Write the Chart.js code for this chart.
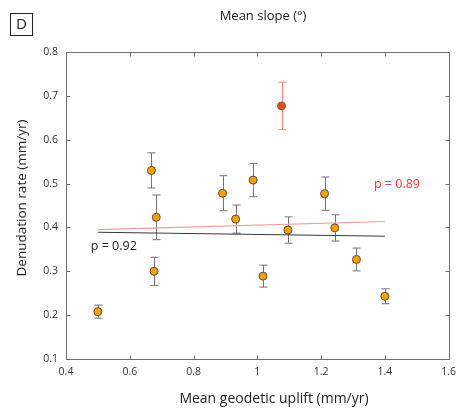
<!DOCTYPE html>
<html><head><meta charset="utf-8">
<script src="https://cdn.jsdelivr.net/npm/chart.js@4.4.0/dist/chart.umd.min.js"></script>
<style>html,body{margin:0;padding:0;background:#fff}</style>
</head><body>
<canvas id="c" width="463" height="411"></canvas>
<script>
// ---- data ----
const uplift     = [0.500, 0.668, 0.683, 0.676, 0.891, 0.932, 0.987, 1.018, 1.096, 1.211, 1.243, 1.311, 1.400];
const denudation = [0.208, 0.530, 0.423, 0.300, 0.478, 0.419, 0.508, 0.289, 0.394, 0.477, 0.399, 0.327, 0.243];
const denudErr   = [0.015, 0.040, 0.051, 0.032, 0.040, 0.032, 0.038, 0.025, 0.030, 0.038, 0.030, 0.026, 0.017];
const outlierX   = [1.076];
const outlierY   = [0.677];
const outlierErr = [0.054];
const fitX       = [0.5, 1.4];
const fitAllY    = [0.395, 0.4135];   // red line, p = 0.89
const fitNoOutY  = [0.389, 0.380];    // black line, p = 0.92
const xTicks = [0.4, 0.6, 0.8, 1.0, 1.2, 1.4, 1.6];
const xTickLabels = ['0.4', '0.6', '0.8', '1', '1.2', '1.4', '1.6'];
const yTicks = [0.1, 0.2, 0.3, 0.4, 0.5, 0.6, 0.7, 0.8];
const yTickLabels = ['0.1', '0.2', '0.3', '0.4', '0.5', '0.6', '0.7', '0.8'];
const pAllLabel = 'p = 0.89', pAllPos = [1.438, 0.498];
const pNoOutLabel = 'p = 0.92', pNoOutPos = [0.55, 0.357];

const FONT = "'Open Sans', 'DejaVu Sans', sans-serif";
const pts = (xs, ys) => xs.map((x, i) => ({x, y: ys[i]}));

const decor = {
  id: 'decor',
  beforeDatasetsDraw(chart) {
    const {ctx} = chart, xs = chart.scales.x, ys = chart.scales.y;
    const drawErr = (X, Y, E, color) => {
      ctx.save(); ctx.strokeStyle = color; ctx.lineWidth = 1;
      X.forEach((x, i) => {
        const px = Math.round(xs.getPixelForValue(x)) + 0.5;
        const t = ys.getPixelForValue(Y[i] + E[i]), b = ys.getPixelForValue(Y[i] - E[i]);
        ctx.beginPath();
        ctx.moveTo(px, t); ctx.lineTo(px, b);
        ctx.moveTo(px - 4, t); ctx.lineTo(px + 4, t);
        ctx.moveTo(px - 4, b); ctx.lineTo(px + 4, b);
        ctx.stroke();
      });
      ctx.restore();
    };
    drawErr(uplift, denudation, denudErr, '#7a7070');
    drawErr(outlierX, outlierY, outlierErr, '#f4877f');
  },
  afterDraw(chart) {
    const {ctx, chartArea: a} = chart, xs = chart.scales.x, ys = chart.scales.y;
    ctx.save();
    // frame
    ctx.strokeStyle = '#6f6f6f'; ctx.lineWidth = 1;
    const L = Math.round(a.left) + 0.5, R = Math.round(a.right) + 0.5,
          T = Math.round(a.top) + 0.5, B = Math.round(a.bottom) + 0.5;
    ctx.strokeRect(L, T, R - L, B - T);
    ctx.beginPath();
    xTicks.forEach(v => {
      const p = Math.round(xs.getPixelForValue(v)) + 0.5;
      ctx.moveTo(p, B); ctx.lineTo(p, B - 4);
      ctx.moveTo(p, T); ctx.lineTo(p, T + 4);
    });
    yTicks.forEach(v => {
      const p = Math.round(ys.getPixelForValue(v)) + 0.5;
      ctx.moveTo(L, p); ctx.lineTo(L + 4, p);
      ctx.moveTo(R, p); ctx.lineTo(R - 4, p);
    });
    ctx.stroke();
    // titles
    ctx.fillStyle = '#222';
    ctx.textAlign = 'center'; ctx.textBaseline = 'middle';
    ctx.font = '13px ' + FONT;
    ctx.fillText('Mean slope (°)', 263, 16);
    ctx.font = '14px ' + FONT;
    ctx.fillText('Mean geodetic uplift (mm/yr)', 274, 399);
    ctx.save();
    ctx.translate(22, 198); ctx.rotate(-Math.PI / 2);
    ctx.font = '13.5px ' + FONT;
    ctx.fillText('Denudation rate (mm/yr)', 0, 0);
    ctx.restore();
    // panel letter
    ctx.strokeStyle = '#222';
    ctx.strokeRect(10.5, 13.5, 22, 22);
    ctx.font = '15px ' + FONT;
    ctx.fillText('D', 21.5, 25);
    // p labels
    ctx.font = '12.5px ' + FONT;
    ctx.fillStyle = '#ee3b3b';
    ctx.fillText(pAllLabel, xs.getPixelForValue(pAllPos[0]), ys.getPixelForValue(pAllPos[1]));
    ctx.fillStyle = '#222';
    ctx.fillText(pNoOutLabel, xs.getPixelForValue(pNoOutPos[0]), ys.getPixelForValue(pNoOutPos[1]));
    ctx.restore();
  }
};

new Chart(document.getElementById('c'), {
  type: 'scatter',
  data: {
    datasets: [
      {data: pts(uplift, denudation), backgroundColor: '#f5a000', borderColor: '#5a5048',
       borderWidth: 1, pointRadius: 4, order: 1},
      {data: pts(outlierX, outlierY), backgroundColor: '#e8501a', borderColor: '#7a5a50',
       borderWidth: 1, pointRadius: 4, order: 1},
      {type: 'line', data: pts(fitX, fitAllY), borderColor: '#f39a9a', borderWidth: 1.2,
       pointRadius: 0, fill: false, order: 3},
      {type: 'line', data: pts(fitX, fitNoOutY), borderColor: '#3a3a3a', borderWidth: 1,
       pointRadius: 0, fill: false, order: 3}
    ]
  },
  options: {
    responsive: false, animation: false, devicePixelRatio: 1,
    layout: {padding: {left: 0, top: 52, right: 7, bottom: 0}},
    plugins: {legend: {display: false}, tooltip: {enabled: false}, title: {display: false}},
    scales: {
      x: {
        type: 'linear', min: 0.4, max: 1.6,
        afterFit: s => { s.height = 52; },
        afterBuildTicks: s => { s.ticks = xTicks.map(v => ({value: v})); },
        grid: {display: false, drawTicks: false}, border: {display: false},
        ticks: {padding: 7, color: '#333', font: {family: FONT, size: 10.5},
                callback: v => xTickLabels[xTicks.findIndex(t => Math.abs(t - v) < 1e-9)],
                maxRotation: 0, autoSkip: false}
      },
      y: {
        type: 'linear', min: 0.1, max: 0.8,
        afterFit: s => { s.width = 66; },
        afterBuildTicks: s => { s.ticks = yTicks.map(v => ({value: v})); },
        grid: {display: false, drawTicks: false}, border: {display: false},
        ticks: {padding: 8, color: '#333', font: {family: FONT, size: 10.5},
                callback: v => yTickLabels[yTicks.findIndex(t => Math.abs(t - v) < 1e-9)],
                autoSkip: false}
      }
    }
  },
  plugins: [decor]
});
</script>
</body></html>
